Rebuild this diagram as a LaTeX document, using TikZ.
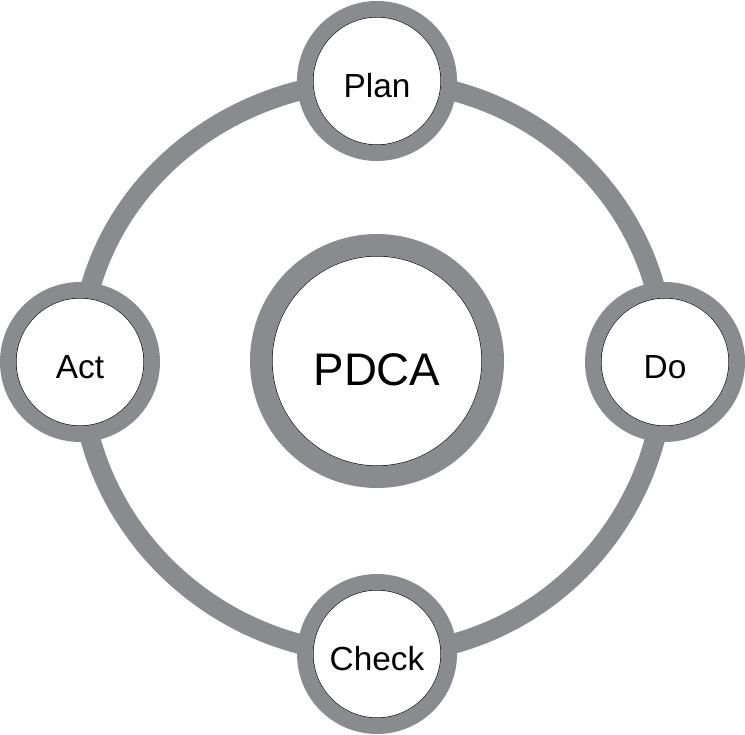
\documentclass[tikz,border=0pt]{standalone}
\usepackage{fontspec}
\setmainfont{Liberation Sans}
\usetikzlibrary{backgrounds}
\definecolor{ringgray}{RGB}{137,139,142}
\begin{document}
\begin{tikzpicture}[
    phase/.style={circle, draw=ringgray, line width=0.32cm, fill=white,
      minimum size=2.88cm, inner sep=0pt, font=\fontsize{19}{22}\selectfont,
      text height=0.68cm, text depth=0pt,
      path picture={\draw[black, line width=0.6pt] (path picture bounding box.center) circle (1.28cm);}},
    hub/.style={circle, draw=ringgray, line width=0.44cm, fill=white,
      minimum size=4.64cm, inner sep=0pt, font=\fontsize{26}{30}\selectfont,
      text height=1.0cm, text depth=0pt,
      path picture={\draw[black, line width=0.6pt] (path picture bounding box.center) circle (2.1cm);}}
  ]
  \useasboundingbox (0,0) rectangle (14.9,14.7);
  % Nodes
  \node[hub] (pdca) at (7.54,7.48) {PDCA};
  \node[phase] (plan) at (7.54,13.08) {Plan};
  \node[phase] (do) at (13.30,7.46) {Do};
  \node[phase] (check) at (7.54,1.62) {Check};
  \node[phase] (act) at (1.60,7.46) {Act};

  % Ring
  \begin{scope}[on background layer]
    \draw[ringgray, line width=0.4cm] (plan.center) to[out=0, in=90] (do.center)
      to[out=-90, in=0] (check.center) to[out=180, in=-90] (act.center)
      to[out=90, in=180] (plan.center);
  \end{scope}
\end{tikzpicture}
\end{document}
